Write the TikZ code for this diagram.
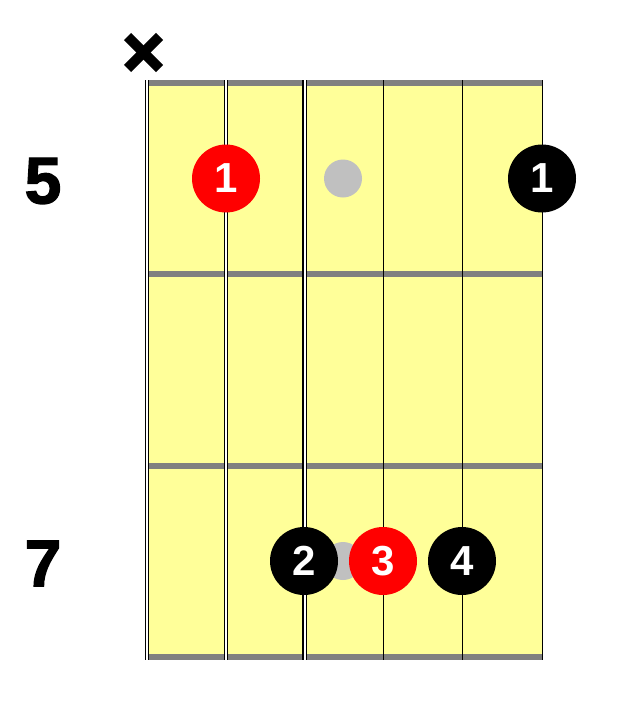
\documentclass[tikz,border=0pt]{standalone}
\usepackage{fontspec}
\setmainfont{Liberation Sans}
\newfontfamily\fretnumfont[FakeBold=2]{Liberation Sans Bold}
\definecolor{fbyellow}{HTML}{FFFF99}
\definecolor{fretgray}{HTML}{808080}
\definecolor{markgray}{HTML}{C0C0C0}
\definecolor{fingred}{HTML}{FF0000}
\begin{document}
\begin{tikzpicture}[x=1pt,y=-1pt,
  fretline/.style={fretgray,line width=6pt},
  thinstring/.style={black,line width=1pt},
  thickstring/.style={black,line width=1.1pt,double=white,double distance=2pt},
  fing/.style={circle,minimum size=68pt,inner sep=0pt,text=white,
    font=\fontsize{42}{42}\selectfont\bfseries},
  blackfing/.style={fing,fill=black},
  redfing/.style={fing,fill=fingred},
  graymark/.style={circle,minimum size=38pt,inner sep=0pt,fill=markgray},
  fretnum/.style={font=\fontsize{66}{66}\selectfont\fretnumfont,inner sep=0pt},
  mutemark/.style={line width=10pt,line cap=butt}]
\useasboundingbox (0,0) rectangle (630,712);
% fretboard
\fill[fbyellow] (147,80) rectangle (542,660);
\foreach \y in {83,274.3,465.7,657} \draw[fretline] (147,\y) -- (542,\y);
% strings
\foreach \x in {383,462,542} \draw[thinstring] (\x,80) -- (\x,660);
\foreach \x in {147,226,304.5} \draw[thickstring] (\x,80) -- (\x,660);
% mute mark
\draw[mutemark] (127.5,36.5) -- (159.5,68.5);
\draw[mutemark] (127.5,68.5) -- (159.5,36.5);
% fret numbers
\node[fretnum] (f5) at (43,181) {5};
\node[fretnum] (f7) at (43,563.5) {7};
% fret 5 row
\node[graymark] (g1) at (343,178.5) {};
\node[redfing] (r1) at (226,178.5) {1};
\node[blackfing] (b1) at (542,178.5) {1};
% fret 7 row
\node[graymark] (g2) at (343,561) {};
\node[blackfing] (b2) at (304,561) {2};
\node[redfing] (r3) at (383,561) {3};
\node[blackfing] (b4) at (462,561) {4};
\end{tikzpicture}
\end{document}
